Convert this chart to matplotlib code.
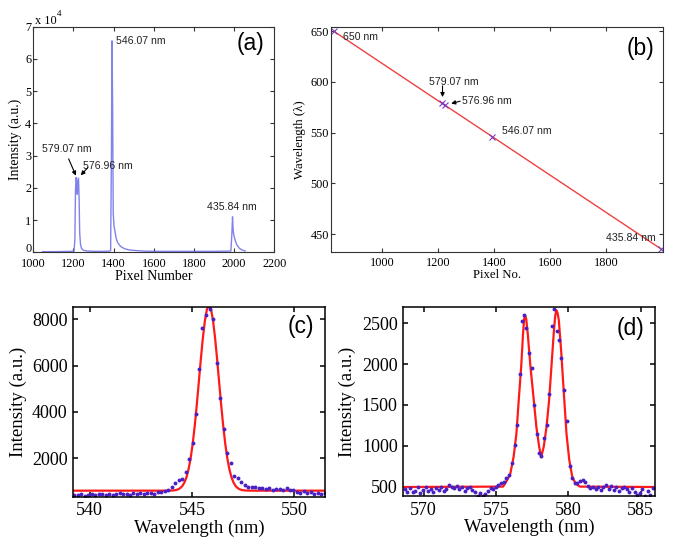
import matplotlib
matplotlib.use('Agg')
import matplotlib.pyplot as plt

W, H = 674, 549

# (a) raw spectrum of the lamp
pixel_a = [1045, 1100, 1150, 1190, 1203, 1207, 1210, 1213, 1216, 1219, 1222, 1225, 1228,
           1231, 1235, 1240, 1250, 1270, 1300, 1340, 1378, 1385, 1389, 1392, 1395, 1398,
           1402, 1407, 1412, 1420, 1435, 1455, 1480, 1520, 1560, 1620, 1700, 1800, 1900,
           1960, 1984, 1989, 1992, 1995, 1998, 2004, 2012, 2025, 2040, 2055]
counts_a = [200, 200, 250, 300, 400, 4000, 19000, 23200, 22000, 18000, 21500, 23000, 17000,
            6000, 2500, 1200, 600, 400, 300, 300, 350, 500, 30000, 65600, 45000, 12000,
            8000, 6500, 4500, 3000, 1800, 1100, 700, 500, 350, 300, 300, 300, 300,
            350, 400, 6000, 11000, 7000, 5500, 4000, 2500, 1300, 700, 400]

# (b) calibration points
pixel_b = [825, 1212, 1224, 1393, 1995]
wl_b = [650.00, 579.07, 576.96, 546.07, 435.84]

# (c) 546.07 nm line: data and fit
wl_c = [539.25, 539.42, 539.59, 539.76, 539.93, 540.10, 540.27, 540.44, 540.61, 540.78,
        540.95, 541.12, 541.29, 541.46, 541.63, 541.80, 541.97, 542.14, 542.31, 542.48,
        542.65, 542.82, 542.99, 543.16, 543.33, 543.50, 543.67, 543.84, 544.01, 544.18,
        544.35, 544.52, 544.69, 544.86, 545.03, 545.20, 545.34, 545.50, 545.68, 545.86,
        546.04, 546.21, 546.37, 546.55, 546.73, 546.90, 547.07, 547.24, 547.41, 547.58,
        547.75, 547.92, 548.09, 548.26, 548.43, 548.60, 548.77, 548.94, 549.11, 549.28,
        549.45, 549.62, 549.79, 549.96, 550.13, 550.30, 550.47, 550.64, 550.81, 550.98,
        551.15, 551.32, 551.49]
int_c = [420, 400, 440, 390, 430, 450, 410, 440, 470, 430,
         460, 420, 450, 480, 440, 470, 430, 490, 460, 500,
         450, 480, 510, 470, 530, 550, 590, 650, 760, 920,
         1040, 1110, 1400, 1960, 2650, 3910, 5850, 7600, 8200, 8450,
         8000, 6100, 4590, 3250, 2240, 1790, 1250, 1140, 965, 850,
         780, 760, 740, 720, 700, 680, 700, 640, 660, 690,
         650, 720, 620, 650, 560, 520, 580, 480, 530, 460,
         500, 470, 520]
fit_wl_c = [539.20, 543.83, 544.03, 544.13, 544.23, 544.33, 544.43, 544.53, 544.63, 544.73,
            544.83, 544.93, 545.03, 545.13, 545.23, 545.33, 545.43, 545.53, 545.63, 545.73,
            545.83, 545.93, 546.03, 546.13, 546.23, 546.33, 546.43, 546.53, 546.63, 546.73,
            546.83, 546.93, 547.03, 547.13, 547.23, 547.33, 547.43, 547.53, 547.63, 547.83,
            551.60]
fit_int_c = [600, 601, 607, 615, 631, 661, 714, 804, 951, 1179,
             1514, 1979, 2595, 3362, 4262, 5250, 6254, 7181, 7935, 8428,
             8600, 8428, 7935, 7181, 6254, 5250, 4262, 3362, 2595, 1979,
             1514, 1179, 951, 804, 714, 661, 631, 615, 607, 601,
             600]

# (d) 576.96 / 579.07 nm doublet: data and fit
wl_d = [568.70, 568.88, 569.06, 569.24, 569.42, 569.60, 569.78, 569.96, 570.14, 570.32,
        570.50, 570.68, 570.86, 571.04, 571.22, 571.40, 571.58, 571.76, 571.94, 572.12,
        572.30, 572.48, 572.66, 572.84, 573.02, 573.20, 573.38, 573.56, 573.74, 573.92,
        574.10, 574.28, 574.46, 574.64, 574.82, 575.00, 575.18, 575.36, 575.54, 575.72,
        575.90, 576.12, 576.30, 576.47, 576.65, 576.81, 576.97, 577.11, 577.30, 577.48,
        577.66, 577.84, 577.98, 578.15, 578.34, 578.52, 578.70, 578.87, 579.04, 579.20,
        579.33, 579.51, 579.70, 579.90, 580.09, 580.27, 580.45, 580.63, 580.81, 580.99,
        581.17, 581.35, 581.53, 581.71, 581.89, 582.07, 582.25, 582.43, 582.61, 582.79,
        582.97, 583.15, 583.33, 583.51, 583.69, 583.87, 584.05, 584.23, 584.41, 584.59,
        584.77, 584.95, 585.13, 585.31, 585.49, 585.67, 585.85]
int_d = [470, 440, 480, 430, 450, 490, 420, 460, 490, 450,
         470, 430, 480, 460, 500, 450, 470, 520, 500, 480,
         510, 470, 490, 450, 480, 500, 460, 430, 390, 420,
         380, 410, 450, 480, 470, 500, 520, 540, 560, 600,
         640, 790, 1010, 1255, 1880, 2530, 2600, 2440, 2140, 1950,
         1500, 1140, 910, 880, 1090, 1250, 1640, 2470, 2680, 2400,
         2300, 2070, 1680, 1300, 750, 600, 540, 540, 570, 580,
         560, 510, 480, 500, 470, 490, 460, 500, 520, 470,
         510, 460, 490, 450, 480, 500, 470, 440, 480, 430,
         400, 420, 470, 380, 450, 400, 480]
fit_wl_d = [568.6, 575.5, 575.78, 576.0, 576.23, 576.42, 576.58, 576.75, 576.88, 576.96,
            577.03, 577.10, 577.2, 577.39, 577.62, 577.80, 577.99, 578.13, 578.31, 578.5,
            578.68, 578.84, 579.0, 579.1, 579.18, 579.26, 579.35, 579.51, 579.7, 579.88,
            580.07, 580.28, 580.5, 580.8, 586.1]
fit_int_d = [495, 500, 580, 660, 870, 1150, 1560, 1970, 2380, 2560,
             2590, 2550, 2380, 1970, 1560, 1230, 990, 860, 990, 1230,
             1560, 1970, 2380, 2590, 2660, 2630, 2540, 2170, 1640, 1150,
             830, 620, 540, 500, 495]

plt.rcParams['font.family'] = ['Liberation Serif', 'DejaVu Serif']
SANS = 'Liberation Sans'

fig = plt.figure(figsize=(W / 100, H / 100), dpi=100)


def px_axes(left, top, right, bottom):
    return fig.add_axes([left / W, 1 - bottom / H, (right - left) / W, (bottom - top) / H])


def matlab_style(ax, size, length, lw, edge, pad):
    for s in ax.spines.values():
        s.set_linewidth(lw)
        s.set_color(edge)
    ax.tick_params(direction='in', top=True, right=True, labelsize=size, length=length,
                   width=lw, color=edge, pad=pad)


def arrow(ax, xy, xytext):
    ax.annotate('', xy=xy, xytext=xytext,
                arrowprops=dict(arrowstyle='-|>', color='k', lw=0.8, mutation_scale=6,
                                shrinkA=0, shrinkB=0))


# ---- (a)
ax = px_axes(33.3, 26.7, 274.3, 252.3)
ax.plot(pixel_a, counts_a, color='#7474ea', lw=1.0, alpha=0.9)
ax.set_xlim(1000, 2200)
ax.set_ylim(0, 70000)
ax.set_xticks(range(1000, 2201, 200))
ax.set_yticks(range(0, 70001, 10000))
ax.set_yticklabels([str(i) for i in range(8)])
matlab_style(ax, 8.8, 3, 0.8, '#333333', 1.5)
ax.tick_params(axis='x', pad=4)
ax.get_yticklabels()[0].set_va('baseline')
ax.set_xlabel('Pixel Number', fontsize=10, labelpad=0)
ax.set_ylabel('Intensity (a.u.)', fontsize=10, labelpad=2)
fig.text(35 / W, 1 - 21 / H, 'x 10', fontsize=8.8, va='center', ha='left')
fig.text(57 / W, 1 - 14 / H, '4', fontsize=6.5, va='center', ha='left')
kw = dict(fontsize=7.6, family=SANS, color='#222222', va='center')
ax.text(1412, 65700, '546.07 nm', ha='left', **kw)
ax.text(1042, 32000, '579.07 nm', ha='left', **kw)
ax.text(1248, 26900, '576.96 nm', ha='left', **kw)
ax.text(1991, 14000, '435.84 nm', ha='center', **kw)
arrow(ax, (1212, 23800), (1176, 29000))
arrow(ax, (1236, 23900), (1272, 26300))
fig.text(250 / W, 1 - 44 / H, '(a)', fontsize=16.5, family=SANS, ha='center', va='center')

# ---- (b)
ax = px_axes(331, 27, 663.3, 251.5)
ax.plot(pixel_b, wl_b, '-', color='#f04040', lw=1.0)
ax.plot(pixel_b, wl_b, 'x', color='#7a3cc0', ms=4, mew=0.8)
ax.set_xlim(816, 2005)
ax.set_ylim(433, 654)
ax.set_xticks(range(1000, 1801, 200))
ax.set_yticks(range(450, 651, 50))
matlab_style(ax, 8.8, 3, 0.8, '#333333', 1.5)
ax.tick_params(axis='x', pad=4)
ax.set_xlabel('Pixel No.', fontsize=9.2, labelpad=0)
ax.set_ylabel('Wavelength (\u03bb)', fontsize=9.2, labelpad=3)
ax.text(860, 644, '650 nm', ha='left', **kw)
ax.text(1257, 600, '579.07 nm', ha='center', **kw)
ax.text(1284, 581, '576.96 nm', ha='left', **kw)
ax.text(1427, 552, '546.07 nm', ha='left', **kw)
ax.text(1801, 446, '435.84 nm', ha='left', **kw)
arrow(ax, (1215, 585), (1215, 596))
arrow(ax, (1246, 578.6), (1278, 581))
fig.text(641 / W, 1 - 49 / H, '(b)', fontsize=16.5, family=SANS, ha='center', va='center')

# ---- (c)
ax = px_axes(73.3, 306.7, 325, 496.7)
ax.plot(fit_wl_c, fit_int_c, '-', color='#ff1a1a', lw=1.6)
ax.plot(wl_c, int_c, 'o', color='#4a1fc4', ms=2.8, mew=0)
ax.set_xlim(539.2, 551.5)
ax.set_ylim(340, 8540)
ax.set_xticks([540, 545, 550])
ax.set_yticks([2000, 4000, 6000, 8000])
matlab_style(ax, 13, 3.5, 1.1, 'black', 4)
ax.set_xlabel('Wavelength (nm)', fontsize=13.5, labelpad=0)
ax.set_ylabel('Intensity (a.u.)', fontsize=13.5, labelpad=4)
fig.text(301 / W, 1 - 327 / H, '(c)', fontsize=16.5, family=SANS, ha='center', va='center')

# ---- (d)
ax = px_axes(403.3, 307, 655, 496)
ax.plot(fit_wl_d, fit_int_d, '-', color='#ff1a1a', lw=1.6)
ax.plot(wl_d, int_d, 'o', color='#4a1fc4', ms=2.8, mew=0)
ax.set_xlim(568.6, 586.0)
ax.set_ylim(385, 2700)
ax.set_xticks([570, 575, 580, 585])
ax.set_yticks([500, 1000, 1500, 2000, 2500])
matlab_style(ax, 13, 3.5, 1.1, 'black', 4)
ax.set_xlabel('Wavelength (nm)', fontsize=13.5, labelpad=0)
ax.set_ylabel('Intensity (a.u.)', fontsize=13.5, labelpad=4)
fig.text(631 / W, 1 - 329 / H, '(d)', fontsize=16.5, family=SANS, ha='center', va='center')

fig.savefig('out.png', dpi=100)
